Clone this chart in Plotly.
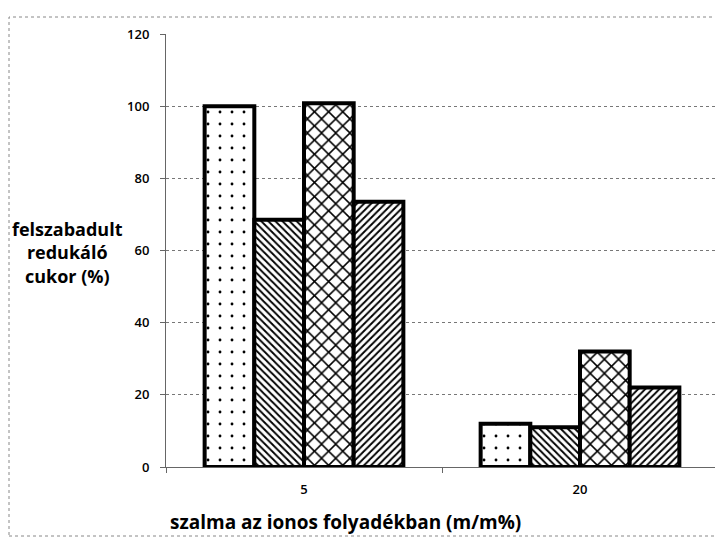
import plotly.graph_objects as go

categories = ["5", "20"]
series_dots = [100, 12]
series_back = [68.5, 11]
series_cross = [100.8, 32]
series_slash = [73.5, 22]
y_ticks = [0, 20, 40, 60, 80, 100, 120]

patterns = [
    (series_dots, dict(shape=".", size=12, solidity=0.045)),
    (series_back, dict(shape="\\", size=5, solidity=0.38)),
    (series_cross, dict(shape="x", size=10, solidity=0.28)),
    (series_slash, dict(shape="/", size=5, solidity=0.38)),
]

fig = go.Figure()
for vals, pat in patterns:
    fig.add_trace(go.Bar(
        x=categories, y=vals,
        marker=dict(color="white",
                    line=dict(color="black", width=4),
                    pattern=dict(fgcolor="black", bgcolor="white", fgopacity=1,
                                 fillmode="overlay", **pat)),
        showlegend=False,
    ))

OFF = 8  # page body margin
W, H = 723 - OFF, 542 - OFF
L, T = 166 - OFF, 34 - OFF
R = W - (718 - OFF)
B = H - (467 - OFF)
pw, ph = W - L - R, H - T - B

fig.update_layout(
    width=W, height=H,
    margin=dict(l=L, r=R, t=T, b=B),
    paper_bgcolor="white", plot_bgcolor="white",
    barmode="group", bargap=0.28, bargroupgap=0,
    font=dict(family="Open Sans, sans-serif", color="black", size=13),
)
fig.update_xaxes(
    type="category", range=[-0.5, 1.5],
    showline=True, linecolor="#666", linewidth=1,
    ticks="outside", tickson="boundaries", ticklen=5, tickcolor="#666",
    showgrid=False, tickfont=dict(size=13, weight=600), ticklabelstandoff=10,
)
fig.update_yaxes(
    range=[0, 120], tickvals=y_ticks,
    showline=True, linecolor="#666", linewidth=1,
    ticks="outside", ticklen=5, tickcolor="#666",
    showgrid=True, gridcolor="#777", gridwidth=1, griddash="dot",
    zeroline=False, tickfont=dict(size=13, weight=600), ticklabelstandoff=8,
)

def px_x(x):
    return (x - OFF - L) / pw

def px_y(y):
    return (H - B - (y - OFF)) / ph

fig.add_shape(type="rect", xref="paper", yref="paper",
              x0=px_x(9), x1=px_x(719), y0=px_y(536), y1=px_y(17),
              line=dict(color="#888", width=1, dash="dot"), layer="below")

fig.add_annotation(xref="paper", yref="paper", x=px_x(67), y=px_y(252),
                   text="felszabadult<br>redukáló<br>cukor (%)", showarrow=False,
                   align="center", xanchor="center", yanchor="middle",
                   font=dict(size=18, weight="bold", family="Open Sans, sans-serif"))
fig.add_annotation(xref="paper", yref="paper", x=px_x(345), y=px_y(522),
                   text="szalma az ionos folyadékban (m/m%)", showarrow=False,
                   xanchor="center", yanchor="middle",
                   font=dict(size=19, weight="bold", family="Open Sans, sans-serif"))

fig.write_html("out.html")
